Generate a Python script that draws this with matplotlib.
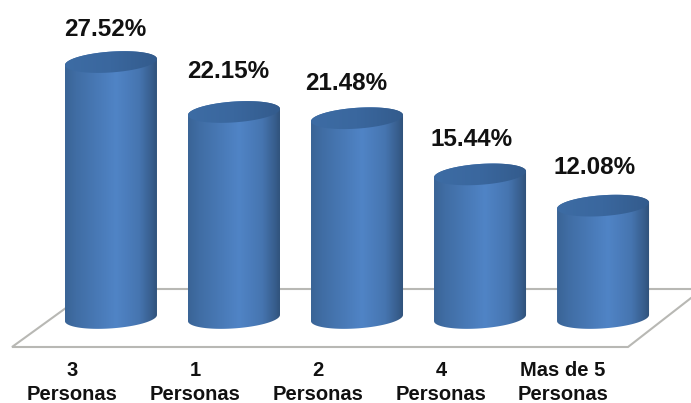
import numpy as np
import matplotlib
matplotlib.use("Agg")
import matplotlib.pyplot as plt
from matplotlib.colors import LinearSegmentedColormap
from matplotlib.path import Path
from matplotlib.patches import PathPatch

categories = ["3\nPersonas", "1\nPersonas", "2\nPersonas", "4\nPersonas", "Mas de 5\nPersonas"]
values = [27.52, 22.15, 21.48, 15.44, 12.08]
value_labels = ["27.52%", "22.15%", "21.48%", "15.44%", "12.08%"]

W, H = 691, 403
plt.rcParams["font.family"] = ["Liberation Sans", "DejaVu Sans"]
fig = plt.figure(figsize=(W / 100, H / 100), dpi=100, facecolor="white")
ax = fig.add_axes([0, 0, 1, 1])
ax.set_xlim(-0.902, 4.715)
ax.set_ylim(-9.14, 34.19)
ax.axis("off")

# floor outline, in axes fractions
def px(x, y):
    return x / W, 1 - y / H
for seg in ([(70, 305), (12, 347), (628, 347), (691, 298)], [(110, 289), (691, 289)]):
    xs, ys = zip(*[px(*p) for p in seg])
    ax.plot(xs, ys, transform=ax.transAxes, color="#b8b8b4", lw=1.5, zorder=1,
            solid_joinstyle="miter")

body_cmap = LinearSegmentedColormap.from_list("body", [
    (0, "#3a6496"), (0.12, "#406da4"), (0.55, "#5084c6"), (0.8, "#4675b0"),
    (0.94, "#375d8c"), (1, "#2f5078")])
top_cmap = LinearSegmentedColormap.from_list("top", ["#3d6ca4", "#3a679e", "#335b8c"])

a, b, s = 0.374, 1.12, 0.33   # half-width, half-height and tilt of the ellipses
t = np.linspace(0, 2 * np.pi, 121)
grad = np.linspace(0, 1, 256).reshape(1, -1)

for i, v in enumerate(values):
    ex = i + a * np.cos(t)
    lo = np.linspace(np.pi, 2 * np.pi, 60)
    hi = np.linspace(0, np.pi, 60)
    bx = np.r_[i + a * np.cos(lo), i + a * np.cos(hi)]
    by = np.r_[0 + b * np.sin(lo) + s * np.cos(lo), v + b * np.sin(hi) + s * np.cos(hi)]
    clip = PathPatch(Path(np.c_[bx, by]), transform=ax.transData, fc="none", ec="none")
    ax.add_patch(clip)
    im = ax.imshow(grad, cmap=body_cmap, vmin=0, vmax=1, extent=[i - a, i + a, -3, v + 3],
                   aspect="auto", zorder=2, interpolation="bilinear")
    im.set_clip_path(clip)

    ey = v + b * np.sin(t) + s * np.cos(t)
    cap = PathPatch(Path(np.c_[ex, ey]), transform=ax.transData, fc="none", ec="none")
    ax.add_patch(cap)
    im2 = ax.imshow(grad, cmap=top_cmap, vmin=0, vmax=1, extent=[i - a, i + a, v - 3, v + 3],
                    aspect="auto", zorder=3, interpolation="bilinear")
    im2.set_clip_path(cap)

ax.set_xlim(-0.902, 4.715)
ax.set_ylim(-9.14, 34.19)

label_pos = [(105, 29), (228, 72), (346, 84), (472, 139), (595, 167)]
for txt, (x, y) in zip(value_labels, label_pos):
    fx, fy = px(x, y)
    ax.text(fx, fy, txt, transform=ax.transAxes, ha="center", va="center",
            fontsize=17.5, fontweight="bold", color="#111111", zorder=5)

cat_x = [72, 195, 318, 441, 563]
for txt, x in zip(categories, cat_x):
    l1, l2 = txt.split("\n")
    fx, fy = px(x, 370)
    ax.text(fx, fy, l1, transform=ax.transAxes, ha="center", va="center",
            fontsize=14.5, fontweight="bold", color="#111111")
    fx, fy = px(x, 394)
    ax.text(fx, fy, l2, transform=ax.transAxes, ha="center", va="center",
            fontsize=14.5, fontweight="bold", color="#111111")

fig.savefig("out.png", dpi=100, facecolor="white")
